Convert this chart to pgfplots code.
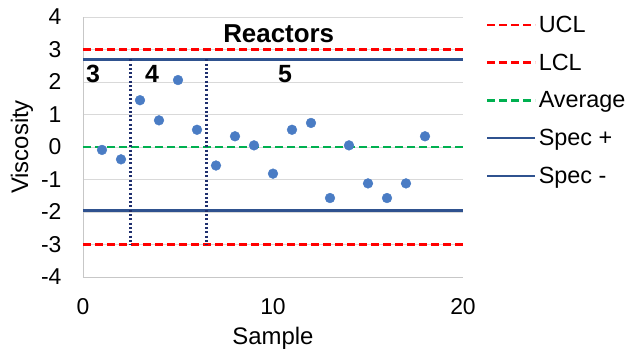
\documentclass[border=0pt]{standalone}
\usepackage{fontspec}
\setmainfont{Liberation Sans}
\usepackage{pgfplots}
\pgfplotsset{compat=1.18}

\definecolor{limitred}{HTML}{FF0000}
\definecolor{avggreen}{HTML}{00B050}
\definecolor{specblue}{HTML}{2F528F}
\definecolor{pointblue}{HTML}{4A7CC4}
\definecolor{dotnavy}{HTML}{1F2F6E}

\begin{document}
\begin{tikzpicture}
\begin{axis}[
  scale only axis,
  width=380bp, height=260bp,
  xmin=0, xmax=20, ymin=-4, ymax=4,
  xtick={0,10,20}, ytick={-4,-3,...,4},
  major tick length=0pt,
  axis x line*=bottom, axis y line*=left,
  axis line style={draw=black!22, line width=0.9bp, -},
  ymajorgrids,
  grid style={draw=black!15, line width=0.8bp},
  tick label style={font=\fontsize{23}{27}\selectfont},
  /pgf/number format/assume math mode=true,
  xticklabel style={yshift=-18bp},
  yticklabel style={xshift=-18bp},
  label style={font=\fontsize{24}{28}\selectfont},
  xlabel={Sample}, ylabel={Viscosity},
  xlabel style={at={(axis description cs:0.5,-0.2615)}, anchor=base},
  ylabel style={at={(axis description cs:-0.1447,0.5)}, anchor=base},
  legend style={at={(1.052,1.02)}, anchor=north west, draw=none, fill=none,
    font=\fontsize{23.5}{28}\selectfont, row sep=16bp,
    nodes={inner xsep=2bp}},
  legend image code/.code={\draw[#1] (0bp,0bp) -- (48bp,0bp);},
  legend cell align=left,
]
% control and specification limits
\addplot[limitred, line width=2.8bp, dash pattern=on 8bp off 4bp] coordinates {(0,3) (20,3)};
\addlegendentry{UCL}
\addplot[limitred, line width=2.8bp, dash pattern=on 8bp off 4bp] coordinates {(0,-3) (20,-3)};
\addlegendentry{LCL}
\addplot[avggreen, line width=2.8bp, dash pattern=on 8bp off 4bp] coordinates {(0,0) (20,0)};
\addlegendentry{Average}
\addplot[specblue, line width=2.6bp] coordinates {(0,2.7) (20,2.7)};
\addlegendentry{Spec +}
\addplot[specblue, line width=2.6bp] coordinates {(0,-1.95) (20,-1.95)};
\addlegendentry{Spec -}

% reactor boundaries
\addplot[forget plot, dotnavy, line width=2.2bp, dash pattern=on 2bp off 2.3bp] coordinates {(2.5,2.7) (2.5,-3)};
\addplot[forget plot, dotnavy, line width=2.2bp, dash pattern=on 2bp off 2.3bp] coordinates {(6.5,2.7) (6.5,-3)};

% viscosity samples
\addplot[forget plot, only marks, mark=*, mark size=4.9bp, mark options={draw=pointblue, fill=pointblue}] coordinates {
  (1,-0.09) (2,-0.38) (3,1.44) (4,0.82) (5,2.06) (6,0.53)
  (7,-0.57) (8,0.33) (9,0.05) (10,-0.82) (11,0.53) (12,0.74)
  (13,-1.57) (14,0.05) (15,-1.12) (16,-1.57) (17,-1.12) (18,0.33)
};

\node[font=\fontsize{26}{30}\selectfont\bfseries] at (axis cs:10.3,3.5) {Reactors};
\node[font=\fontsize{25}{29}\selectfont\bfseries] at (axis cs:0.53,2.25) {3};
\node[font=\fontsize{25}{29}\selectfont\bfseries] at (axis cs:3.63,2.25) {4};
\node[font=\fontsize{25}{29}\selectfont\bfseries] at (axis cs:10.63,2.25) {5};
\end{axis}
\pgfresetboundingbox
\path (-83bp,-76bp) rectangle (546bp,277bp);
\end{tikzpicture}
\end{document}
